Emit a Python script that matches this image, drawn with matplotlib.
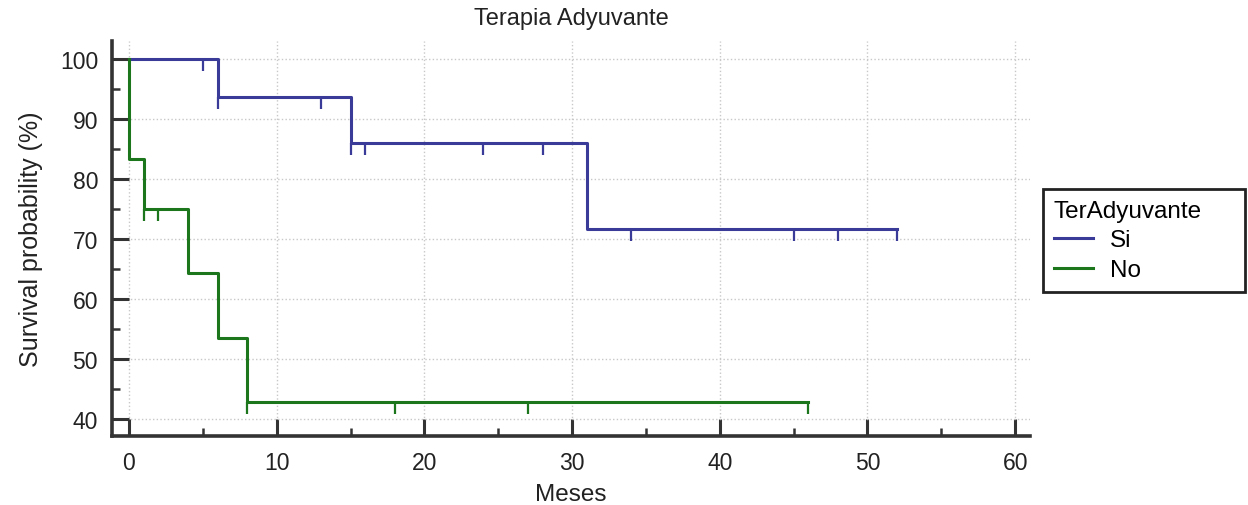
import matplotlib.pyplot as plt
import numpy as np

plt.rcParams['font.family'] = ['Liberation Sans', 'DejaVu Sans']

# Kaplan-Meier curves
si_time = [0, 6, 15, 31, 52]
si_surv = [100, 93.75, 85.94, 71.61, 71.61]
si_cens_time = [5, 6, 13, 15, 16, 24, 28, 34, 45, 48, 52]
si_cens_surv = [100, 93.75, 93.75, 85.94, 85.94, 85.94, 85.94, 71.61, 71.61, 71.61, 71.61]

no_time = [0, 0, 1, 4, 6, 8, 46]
no_surv = [100, 83.3, 75.0, 64.3, 53.6, 42.9, 42.9]
no_cens_time = [1, 2, 8, 18, 27, 46]
no_cens_surv = [75.0, 75.0, 42.9, 42.9, 42.9, 42.9]

xticks = [0, 10, 20, 30, 40, 50, 60]
yticks = [40, 50, 60, 70, 80, 90, 100]

blue = '#3a3a98'
green = '#1c761c'
dark = '#333333'
txt = '#222222'

fig = plt.figure(figsize=(12.48, 5.06), dpi=100)
ax = fig.add_axes([0.0897, 0.1364, 0.7356, 0.7806])

ax.step(si_time, si_surv, where='post', color=blue, lw=2.2, label='Si')
ax.vlines(si_cens_time, np.array(si_cens_surv) - 2, si_cens_surv, color=blue, lw=1.6)
ax.step(no_time, no_surv, where='post', color=green, lw=2.2, label='No')
ax.vlines(no_cens_time, np.array(no_cens_surv) - 2, no_cens_surv, color=green, lw=1.6)

ax.set_xlim(-1.15, 61)
ax.set_ylim(37.2, 103)
ax.set_xticks(xticks)
ax.set_yticks(yticks)
ax.set_xticks(np.arange(5, 60, 10), minor=True)
ax.set_yticks(np.arange(45, 100, 10), minor=True)
ax.grid(True, which='major', color='#c8c8c8', ls=':', lw=1)
ax.set_axisbelow(True)

for s in ['top', 'right']:
    ax.spines[s].set_visible(False)
for s in ['left', 'bottom']:
    ax.spines[s].set_color(dark)
    ax.spines[s].set_linewidth(2.6)
ax.tick_params(which='major', direction='in', length=12, width=2.2, color=dark,
               labelsize=16.5, labelcolor=txt)
ax.tick_params(axis='x', which='major', pad=11)
ax.tick_params(axis='y', which='major', pad=10)
ax.tick_params(which='minor', direction='in', length=6, width=1.8, color=dark)

ax.set_title('Terapia Adyuvante', fontsize=17, color=txt, pad=12)
ax.set_xlabel('Meses', fontsize=17.5, color=txt, labelpad=6)
ax.set_ylabel('Survival probability (%)', fontsize=18, color=txt, labelpad=12)

# legend box stretched to the width seen in the picture
leg = ax.legend(title='TerAdyuvante', loc='upper left',
                bbox_to_anchor=(0.8357, 0.4, 0.1619, 0.225), mode='expand',
                bbox_transform=fig.transFigure, fontsize=17.5, title_fontsize=17.5,
                fancybox=False, edgecolor=txt, framealpha=1,
                handlelength=1.6, handletextpad=0.7, borderpad=0.45,
                labelspacing=0.32, borderaxespad=0)
leg._legend_box.align = 'left'
leg.get_frame().set_linewidth(2)

fig.savefig('out.png', dpi=100)
